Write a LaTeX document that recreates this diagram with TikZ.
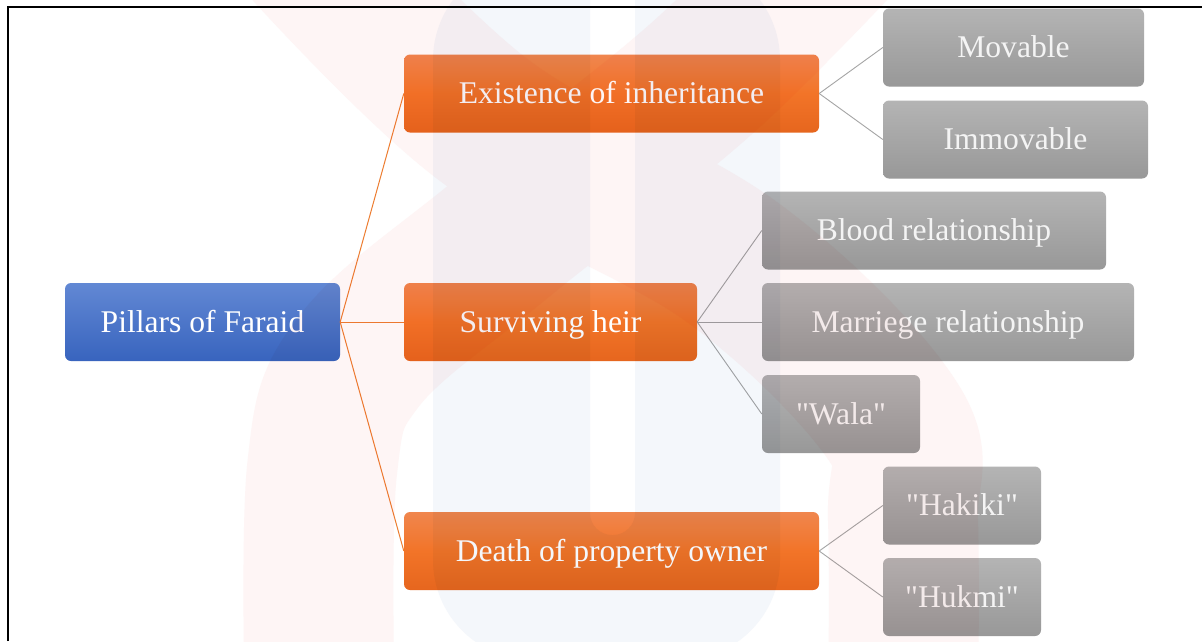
\documentclass[tikz,border=0pt]{standalone}
\usepackage{fontspec}
\setmainfont{Liberation Serif}
\definecolor{blueA}{RGB}{98,136,212}
\definecolor{blueB}{RGB}{56,100,190}
\definecolor{orA}{RGB}{240,134,78}
\definecolor{orM}{RGB}{242,116,40}
\definecolor{orB}{RGB}{230,102,30}
\definecolor{greyA}{RGB}{180,180,180}
\definecolor{greyB}{RGB}{152,152,152}
\definecolor{leaftext}{RGB}{244,244,244}
\definecolor{orline}{RGB}{237,125,49}
\definecolor{greyline}{RGB}{165,165,165}
\definecolor{wmpink}{RGB}{254,245,245}
\definecolor{wmblue}{RGB}{244,247,251}
\begin{document}
\begin{tikzpicture}[x=1pt,y=-1pt,
  box/.style={rectangle, rounded corners=6pt, minimum height=78pt, inner sep=0pt,
    text height=25pt, text depth=4.4pt,
    text=white, font=\fontsize{31.6}{36}\selectfont},
  rootbox/.style={box, top color=blueA, bottom color=blueB},
  mainbox/.style={box, top color=orA, bottom color=orB, middle color=orM},
  leafbox/.style={box, top color=greyA, bottom color=greyB, text=leaftext},
  mainlink/.style={draw=orline, line width=1pt},
  leaflink/.style={draw=greyline, line width=0.9pt},
  frameline/.style={draw=black, line width=2.2pt}
]
\useasboundingbox (0,0) rectangle (1202,641);
\fill[white] (0,0) rectangle (1202,641);

% nodes
\node[rootbox, minimum width=275pt] (root) at (202.5,322) {Pillars of Faraid};
\node[mainbox, minimum width=415pt] (exist) at (611.5,93.5) {Existence of inheritance};
\node[mainbox, minimum width=293pt] (heir) at (550.5,322) {Surviving heir};
\node[mainbox, minimum width=415pt] (death) at (611.5,551) {Death of property owner};
\node[leafbox, minimum width=261pt] (mov) at (1013.5,47.5) {Movable};
\node[leafbox, minimum width=265pt] (immov) at (1015.5,139.5) {Immovable};
\node[leafbox, minimum width=344pt] (blood) at (934,230.5) {Blood relationship};
\node[leafbox, minimum width=372pt] (marr) at (948,322) {Marriege relationship};
\node[leafbox, minimum width=158pt] (wala) at (841,414) {\textquotedbl Wala\textquotedbl};
\node[leafbox, minimum width=158pt] (hak) at (962,505.5) {\textquotedbl Hakiki\textquotedbl};
\node[leafbox, minimum width=158pt] (huk) at (962,597) {\textquotedbl Hukmi\textquotedbl};

% connectors
\draw[mainlink] (root.east) -- (exist.west);
\draw[mainlink] (root.east) -- (heir.west);
\draw[mainlink] (root.east) -- (death.west);
\draw[leaflink] (exist.east) -- (mov.west);
\draw[leaflink] (exist.east) -- (immov.west);
\draw[leaflink] (heir.east) -- (blood.west);
\draw[leaflink] (heir.east) -- (marr.west);
\draw[leaflink] (heir.east) -- (wala.west);
\draw[leaflink] (death.east) -- (hak.west);
\draw[leaflink] (death.east) -- (huk.west);

% faint watermark
\begin{scope}[blend mode=multiply]
\fill[wmblue, even odd rule]
  [rounded corners=100pt] (433,-40) -- (433,660) -- (780,660) -- (780,-40) -- cycle
  [rounded corners=22pt] (590,-40) -- (590,535) -- (635,535) -- (635,-40) -- cycle;
\draw[wmpink, line width=150pt, line join=round]
  plot[smooth, tension=0.6] coordinates {(290,-70) (485,121) (732,262) (892,420) (903,520) (903,720)}
  plot[smooth, tension=0.6] coordinates {(850,-70) (700,80) (500,240) (360,360) (322,470) (320,720)};
\end{scope}

% frame
\draw[frameline] (8,641) -- (8,7) -- (1202,7);
\end{tikzpicture}
\end{document}
